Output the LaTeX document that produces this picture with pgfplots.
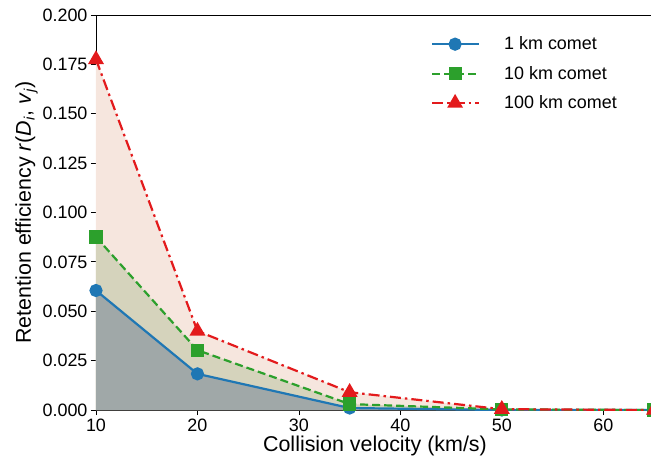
\documentclass[border=0pt]{standalone}
\usepackage{fontspec}
\setmainfont{Liberation Sans}
\usepackage{pgfplots}
\pgfplotsset{compat=1.18}
\definecolor{cblue}{RGB}{31,119,180}
\definecolor{cgreen}{RGB}{44,160,44}
\definecolor{cred}{RGB}{227,26,28}
\definecolor{fred}{RGB}{246,230,222}
\definecolor{fgreen}{RGB}{213,211,188}
\definecolor{fblue}{RGB}{160,168,168}

\pgfplotstableread{
v    r1      r10     r100
10   0.0605  0.0876  0.1775
20   0.0183  0.0303  0.0400
35   0.0010  0.0030  0.0090
50   0.0000  0.0003  0.0004
65   0.0000  0.0000  0.0000
}\datatable

\begin{document}
\begin{tikzpicture}
\begin{axis}[
    scale only axis,
    width=558bp, height=395bp,
    xmin=10, xmax=65, ymin=0, ymax=0.2,
    xtick={10,20,30,40,50,60},
    ytick={0,0.025,0.05,0.075,0.1,0.125,0.15,0.175,0.2},
    yticklabel style={/pgf/number format/.cd, fixed, fixed zerofill, precision=3},
    /pgf/number format/assume math mode=true,
    tick label style={font=\fontsize{18}{21}\selectfont},
    label style={font=\fontsize{21.5}{25}\selectfont},
    xlabel={Collision velocity (km/s)},
    ylabel={Retention efficiency \textit{r}(\textit{D}\textsubscript{\textit{i}}, \textit{v}\textsubscript{\textit{j}})},
    xlabel style={yshift=2bp},
    ylabel style={yshift=-2bp},
    tick align=outside, xtick pos=bottom, ytick pos=left,
    major tick length=5bp,
    every tick/.style={black, line width=0.8bp},
    axis line style={line width=0.8bp},
    legend style={draw=none, fill=none, at={(0.6,0.95)}, anchor=north west,
      font=\fontsize{18}{21}\selectfont, row sep=11bp, inner sep=0pt,
      /tikz/every even column/.append style={column sep=0bp}},
    legend cell align=left,
    legend image code/.code={
      \draw[mark repeat=2, mark phase=2] plot coordinates {(0bp,0bp) (23bp,0bp) (47bp,0bp)};
      \path (0bp,0bp) (69bp,0bp);
    },
    every axis plot/.append style={line width=2.2bp},
]
\addplot[draw=none, fill=fred, forget plot] table[x=v, y=r100] {\datatable} \closedcycle;
\addplot[draw=none, fill=fgreen, forget plot] table[x=v, y=r10] {\datatable} \closedcycle;
\addplot[draw=none, fill=fblue, forget plot] table[x=v, y=r1] {\datatable} \closedcycle;
\addplot[cblue, mark=*, mark size=5.5bp, mark options={solid}] table[x=v, y=r1] {\datatable};
\addlegendentry{1 km comet}
\addplot[cgreen, dash pattern=on 8bp off 4bp, mark=square*, mark size=5.5bp, mark options={solid}] table[x=v, y=r10] {\datatable};
\addlegendentry{10 km comet}
\addplot[cred, dash pattern=on 11bp off 4bp on 2.5bp off 4bp, mark=triangle*, mark size=7bp, mark options={solid}] table[x=v, y=r100] {\datatable};
\addlegendentry{100 km comet}
\coordinate (bl) at (rel axis cs:0,0);
\coordinate (tr) at (rel axis cs:1,1);
\end{axis}
\pgfresetboundingbox
\path[use as bounding box] ([shift={(-96bp,-61bp)}]bl) rectangle ([shift={(-3bp,15bp)}]tr);
\end{tikzpicture}
\end{document}
